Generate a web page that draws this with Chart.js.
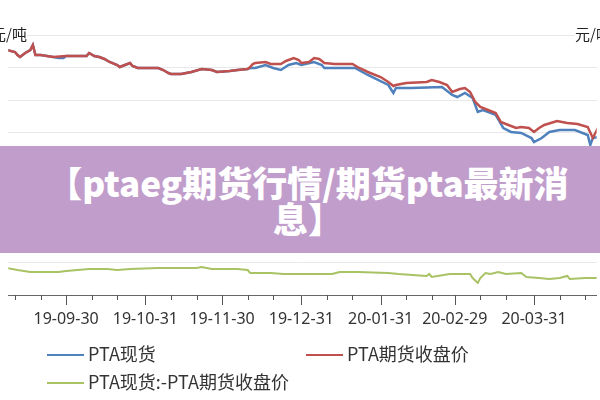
<!DOCTYPE html>
<html>
<head>
<meta charset="utf-8">
<script src="https://cdn.jsdelivr.net/npm/chart.js@4"></script>
<style>
  html, body { margin: 0; padding: 0; background: #fff; }
  body { width: 600px; height: 400px; position: relative; overflow: hidden; font-family: "Noto Sans CJK SC", "Noto Sans", sans-serif; }
  #c { position: absolute; left: 0; top: 0; }
  .unit { position: absolute; top: 24px; font-size: 15px; color: #222; background: #fff; line-height: 20px; white-space: nowrap; }
  #banner { position: absolute; left: 0; top: 146px; width: 600px; height: 107px; background: #c19dcc; }
  #title { position: absolute; left: 16px; right: 0; top: 164px; text-align: center; color: #fff; font-weight: 900; font-size: 35px; line-height: 36px; letter-spacing: 0; }
  .leg { position: absolute; font-size: 18px; color: #333; line-height: 22px; white-space: nowrap; }
  .leg i { display: inline-block; width: 37px; height: 2px; vertical-align: middle; margin-right: 4px; position: relative; top: -1px; }
</style>
</head>
<body>
<canvas id="c" width="600" height="400"></canvas>
<div class="unit" id="unitL" style="left:-9px;">元/吨</div>
<div class="unit" id="unitR" style="left:575px;">元/吨</div>
<div id="banner"></div>
<div id="title">【ptaeg期货行情/期货pta最新消<br>息】</div>
<div id="legend"></div>
<script>
// ---- tick data (days counted from 2019-09-30) ----
const xTickDays = [-20,-10,0,10,20,31,41,51,61,71,81,92,102,112,123,133,143,152,162,172,183,193,203];
const majorDays = [0,31,61,92,123,152,183];
const majorLabels = ['19-09-30','19-10-31','19-11-30','19-12-31','20-01-31','20-02-29','20-03-31'];

// ---- series names ----
const seriesNames = ['PTA现货', 'PTA期货收盘价', 'PTA现货:-PTA期货收盘价'];

// ---- PTA现货 (spot) ----
const spotDays = [-23,-20,-19,-18,-16,-14,-13,-12,-10,-5,-3,-1,0,8,9,11,13,15,17,20,21,23,25,26,28,36,38,40,41,45,49,53,57,59,64,67,71,72,74,78,81,84,87,90,92,97,100,101,113,118,126,128,129,135,147,151,153,156,159,161,163,168,171,174,178,182,183,186,189,193,199,204,205,206,208];
const spotValues = [5279,5250,5206,5176,5235,5279,5353,5206,5206,5176,5162,5162,5191,5191,5235,5191,5176,5147,5103,5059,5029,5059,5088,5044,5015,5015,4985,4941,4926,4926,4956,5000,4985,4956,4971,4985,5000,5015,5015,5059,5015,4985,5059,5088,5059,5103,5059,5015,5015,4912,4765,4647,4721,4721,4735,4618,4588,4647,4574,4368,4397,4324,4132,4074,4059,3985,3926,3985,4074,4103,4103,4029,3882,3985,4000];

// ---- PTA期货收盘价 (futures close) ----
const futDays = [-23,-20,-19,-18,-16,-14,-13,-12,-10,-5,0,8,9,11,13,15,17,20,21,23,25,26,28,36,38,40,41,45,49,53,57,59,64,67,71,72,73,74,78,80,84,86,89,91,92,95,97,99,101,105,112,114,118,123,126,128,129,133,141,143,146,149,151,154,156,158,160,162,165,168,170,173,176,178,181,183,185,187,192,196,200,204,206,208];
const futValues = [5279,5250,5206,5176,5235,5279,5353,5206,5206,5176,5191,5191,5235,5191,5176,5147,5103,5059,5029,5059,5088,5044,5015,5015,4985,4941,4926,4926,4956,5000,4985,4956,4971,4985,5000,5029,5074,5088,5103,5074,5074,5118,5162,5132,5088,5103,5162,5147,5088,5074,5074,5029,4956,4882,4809,4750,4765,4794,4809,4838,4809,4765,4662,4706,4721,4662,4515,4441,4397,4353,4221,4176,4132,4147,4132,4074,4132,4176,4235,4206,4191,4147,3985,4132];

// ---- 价差 (spot - futures) ----
const spreadDays = [-23,-19,-14,-10,-3,0,9,16,20,25,36,51,53,57,67,71,72,80,85,92,104,107,114,126,130,141,142,143,150,158,159,161,162,164,166,169,172,178,180,185,189,193,196,197,203,208];
const spreadValues = [29,0,-29,-29,-29,-15,15,15,0,15,29,29,44,15,15,0,-44,-44,-59,-59,-59,-29,-29,-44,-59,-88,-59,-103,-59,-59,-118,-191,-118,-44,-59,-29,-59,-44,-103,-118,-132,-118,-88,-132,-118,-118];

const colors = ['#4F81BD', '#C0504D', '#A8C264'];

const pts = (xs, ys) => xs.map((x, i) => ({ x: x, y: ys[i] }));

const tickMarks = {
  id: 'tickMarks',
  afterDraw(chart) {
    const s = chart.scales.x;
    const ctx = chart.ctx;
    ctx.save();
    ctx.strokeStyle = '#555';
    ctx.lineWidth = 1;
    s.ticks.forEach((t, i) => {
      const px = Math.round(s.getPixelForTick(i)) + 0.5;
      const len = majorDays.includes(t.value) ? 10 : 5;
      ctx.beginPath();
      ctx.moveTo(px, s.top);
      ctx.lineTo(px, s.top + len);
      ctx.stroke();
    });
    ctx.restore();
  }
};

const chart = new Chart(document.getElementById('c'), {
  type: 'line',
  data: {
    datasets: [
      { label: seriesNames[0], data: pts(spotDays, spotValues), borderColor: colors[0], borderWidth: 2.5, pointRadius: 0, tension: 0, yAxisID: 'y', order: 2 },
      { label: seriesNames[1], data: pts(futDays, futValues), borderColor: colors[1], borderWidth: 2.5, pointRadius: 0, tension: 0, yAxisID: 'y', order: 1 },
      { label: seriesNames[2], data: pts(spreadDays, spreadValues), borderColor: colors[2], borderWidth: 2, pointRadius: 0, tension: 0, yAxisID: 'y1', order: 3 }
    ]
  },
  options: {
    responsive: false,
    animation: false,
    layout: { padding: { top: 35, bottom: 70, left: 0, right: 0 } },
    plugins: { legend: { display: false }, tooltip: { enabled: false } },
    scales: {
      x: {
        type: 'linear',
        min: -22.6,
        max: 207.5,
        afterBuildTicks(scale) { scale.ticks = xTickDays.map(v => ({ value: v })); },
        afterFit(scale) { scale.height = 35; },
        grid: { display: true, drawOnChartArea: false, drawTicks: false },
        border: { display: true, color: '#666', width: 1 },
        ticks: {
          autoSkip: false, maxRotation: 0, padding: 15,
          color: '#333',
          font: { size: 16, family: '"Noto Sans", sans-serif' },
          callback(v) { const k = majorDays.indexOf(v); return k >= 0 ? majorLabels[k] : ''; }
        }
      },
      y: {
        position: 'left',
        min: 1676,
        max: 5500,
        ticks: { display: false, stepSize: 500 },
        grid: { color: '#e8e8e8', drawTicks: false, lineWidth: 1 },
        border: { display: false }
      },
      y1: {
        position: 'right',
        display: false,
        min: -368,
        max: 3456
      }
    }
  },
  plugins: [tickMarks]
});

// HTML legend built from the chart's datasets
const legendPos = [[47, 342], [306, 342], [47, 370]];
const lg = document.getElementById('legend');
chart.data.datasets.forEach((d, i) => {
  const el = document.createElement('div');
  el.className = 'leg';
  el.style.left = legendPos[i][0] + 'px';
  el.style.top = legendPos[i][1] + 'px';
  el.innerHTML = '<i style="background:' + d.borderColor + '"></i>' + d.label;
  lg.appendChild(el);
});
</script>
</body>
</html>
